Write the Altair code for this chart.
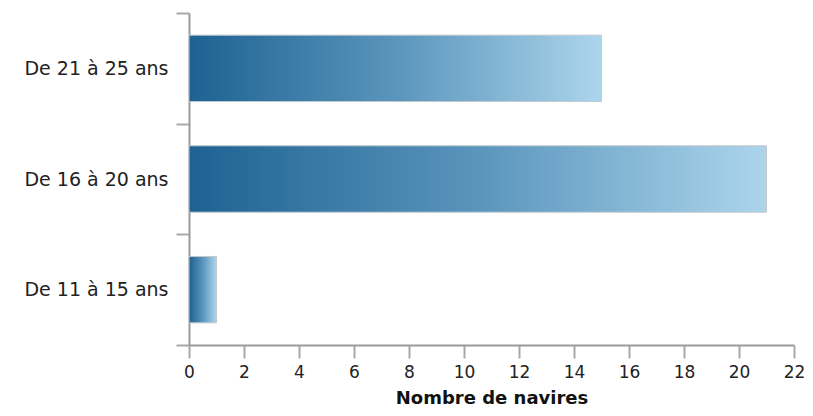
import altair as alt
import pandas as pd

categories = ["De 21 à 25 ans", "De 16 à 20 ans", "De 11 à 15 ans"]
values = [15, 21, 1]
x_ticks = [0, 2, 4, 6, 8, 10, 12, 14, 16, 18, 20, 22]

df = pd.DataFrame({"cat": categories, "n": values})

gradient = alt.Gradient(
    gradient="linear",
    stops=[
        alt.GradientStop(color="#1d6292", offset=0),
        alt.GradientStop(color="#5a95bc", offset=0.5),
        alt.GradientStop(color="#acd5ec", offset=1),
    ],
    x1=0, x2=1, y1=0, y2=0,
)

bars = alt.Chart(df).mark_bar(
    color=gradient, stroke="#c4c8cc", strokeWidth=1, height={"band": 0.6}
).encode(
    x=alt.X("n:Q", title="Nombre de navires",
            scale=alt.Scale(domain=[0, 22], nice=False),
            axis=alt.Axis(values=x_ticks, grid=False, tickSize=13, labelPadding=6,
                          titlePadding=9, labelFontSize=17, titleFontSize=18,
                          titleFontWeight="bold", labelFlush=False)),
    y=alt.Y("cat:N", title=None, sort=categories,
            scale=alt.Scale(paddingInner=0, paddingOuter=0),
            axis=alt.Axis(tickBand="extent", tickSize=13, labelPadding=8,
                          labelFontSize=19, grid=False)),
)

chart = bars.properties(
    width=605, height=332,
    autosize=alt.AutoSizeParams(type="none"),
    padding={"left": 181, "top": 5, "right": 11, "bottom": 63},
).configure_view(stroke=None).configure_axis(
    domainColor="#9a9a9a", domainWidth=2, tickColor="#a8a8a8", tickWidth=2,
    labelColor="#222222", titleColor="#111111",
    labelFont="DejaVu Sans", titleFont="DejaVu Sans",
)

chart.save("out.html", embed_options={"renderer": "svg", "actions": False})
